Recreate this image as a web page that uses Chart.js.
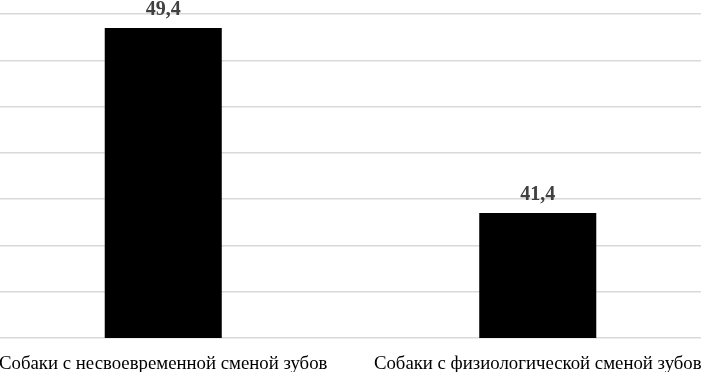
<!DOCTYPE html>
<html>
<head>
<meta charset="utf-8">
<script src="https://cdn.jsdelivr.net/npm/chart.js@4/dist/chart.umd.min.js"></script>
<style>
  html, body { margin: 0; padding: 0; background: #fff; overflow: hidden; }
  body { width: 701px; height: 372px; position: relative; }
  #chart { position: absolute; left: -24px; top: 0; }
</style>
</head>
<body>
<canvas id="chart" width="749" height="372"></canvas>
<script>
// data
var categories = ["Собаки с несвоевременной сменой зубов", "Собаки с физиологической сменой зубов"];
var values = [49.4, 41.4];
var yMin = 36;
var yMax = 50;
var yStep = 2;

// value labels above the bars
var barLabels = {
  id: "barLabels",
  afterDatasetsDraw: function (chart) {
    var ctx = chart.ctx;
    var meta = chart.getDatasetMeta(0);
    ctx.save();
    ctx.font = "bold 20px 'Liberation Serif', 'Times New Roman', serif";
    ctx.fillStyle = "#404040";
    ctx.textAlign = "center";
    ctx.textBaseline = "alphabetic";
    meta.data.forEach(function (bar, i) {
      var txt = String(values[i]).replace(".", ",");
      ctx.fillText(txt, bar.x, bar.y - 13);
    });
    ctx.restore();
  }
};

var chart = new Chart(document.getElementById("chart"), {
  type: "bar",
  data: {
    labels: categories,
    datasets: [{
      data: values,
      backgroundColor: "#000000",
      borderWidth: 0,
      categoryPercentage: 1,
      barPercentage: 0.3125
    }]
  },
  options: {
    responsive: false,
    animation: false,
    devicePixelRatio: 1,
    layout: { padding: { top: 14, left: 0, right: 0, bottom: 0 } },
    plugins: {
      legend: { display: false },
      tooltip: { enabled: false }
    },
    scales: {
      x: {
        grid: { display: false },
        border: { display: false },
        ticks: {
          color: "#000000",
          font: { family: "'Liberation Serif', 'Times New Roman', serif", size: 18.8 },
          padding: 7,
          maxRotation: 0,
          autoSkip: false
        },
        afterFit: function (s) { s.height = 34; }
      },
      y: {
        min: yMin,
        max: yMax,
        grid: { color: "#d9d9d9", lineWidth: 1.5, drawTicks: false },
        border: { display: false },
        ticks: { display: false, stepSize: yStep },
        afterFit: function (s) { s.width = 0; }
      }
    }
  },
  plugins: [barLabels]
});
</script>
</body>
</html>
